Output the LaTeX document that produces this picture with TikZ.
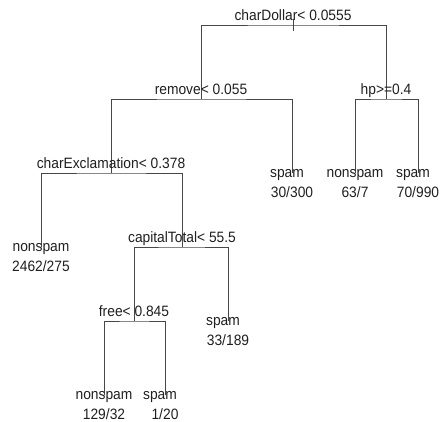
\documentclass[tikz,border=0pt]{standalone}
\usepackage{fontspec}
\setmainfont{Liberation Sans}[FakeStretch=0.92]
\begin{document}
\begin{tikzpicture}[x=1pt,y=-1pt,
  branch/.style={draw=black!72, line width=0.9pt},
  lbl/.style={font=\fontsize{15}{17}\selectfont, text=black!88, inner sep=0pt, anchor=base}]
\useasboundingbox (0,0) rectangle (440,422);
% node positions
\coordinate (root) at (293,25);
\coordinate (rem) at (201,99);
\coordinate (hp) at (386,99);
\coordinate (exc) at (111,173);
\coordinate (s1) at (292,173);
\coordinate (n2) at (355,173);
\coordinate (s3) at (418,173);
\coordinate (n4) at (41,247);
\coordinate (cap) at (182,247);
\coordinate (free) at (134,321);
\coordinate (s5) at (228,321);
\coordinate (n6) at (104,395);
\coordinate (s7) at (165,395);
% branches
\draw[branch] ([yshift=6pt]root) -- ([yshift=-6pt]root);
\draw[branch] (rem) |- (root) -| (hp);
\draw[branch] (exc) |- (rem) -| (s1);
\draw[branch] (n2) |- (hp) -| (s3);
\draw[branch] (n4) |- (exc) -| (cap);
\draw[branch] (free) |- (cap) -| (s5);
\draw[branch] (n6) |- (free) -| (s7);
% split labels
\node[lbl] (troot) at ([yshift=4pt]root) {charDollar< 0.0555};
\node[lbl] (trem) at ([yshift=4pt]rem) {remove< 0.055};
\node[lbl] (thp) at ([yshift=4pt]hp) {hp>=0.4};
\node[lbl] (texc) at ([yshift=4pt]exc) {charExclamation< 0.378};
\node[lbl] (tcap) at ([yshift=4pt]cap) {capitalTotal< 55.5};
\node[lbl] (tfree) at ([yshift=4pt]free) {free< 0.845};
% leaf labels
\node[lbl] (cs1) at ([xshift=-5pt,yshift=-5pt]s1) {spam};
\node[lbl] (ks1) at ([yshift=-25pt]s1) {30/300};
\node[lbl] (cn2) at ([yshift=-5pt]n2) {nonspam};
\node[lbl] (kn2) at ([yshift=-25pt]n2) {63/7};
\node[lbl] (cs3) at ([xshift=-5pt,yshift=-5pt]s3) {spam};
\node[lbl] (ks3) at ([yshift=-25pt]s3) {70/990};
\node[lbl] (cn4) at ([yshift=-5pt]n4) {nonspam};
\node[lbl] (kn4) at ([yshift=-25pt]n4) {2462/275};
\node[lbl] (cs5) at ([xshift=-5pt,yshift=-5pt]s5) {spam};
\node[lbl] (ks5) at ([yshift=-25pt]s5) {33/189};
\node[lbl] (cn6) at ([yshift=-5pt]n6) {nonspam};
\node[lbl] (kn6) at ([yshift=-25pt]n6) {129/32};
\node[lbl] (cs7) at ([xshift=-5pt,yshift=-5pt]s7) {spam};
\node[lbl] (ks7) at ([yshift=-25pt]s7) {1/20};
\end{tikzpicture}
\end{document}
